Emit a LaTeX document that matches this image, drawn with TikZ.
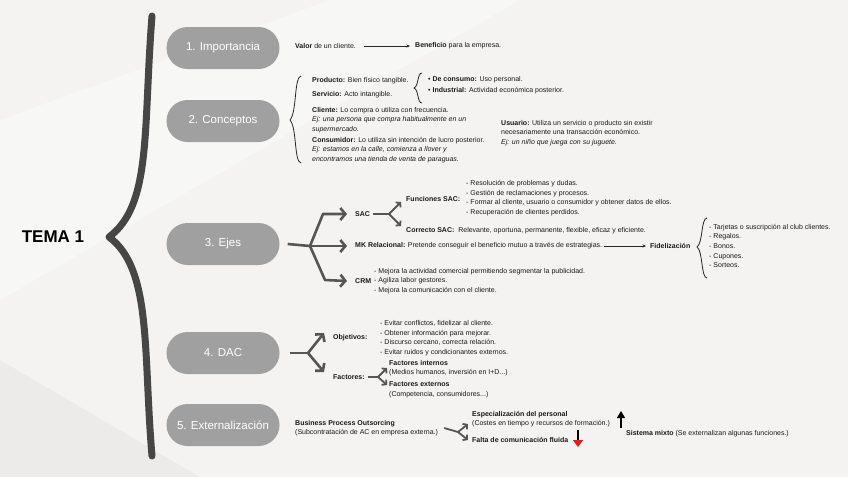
\documentclass[tikz,border=0pt]{standalone}
\usepackage{fontspec}
\setmainfont{Liberation Sans}
\usetikzlibrary{arrows.meta}

\definecolor{paper}{RGB}{244,243,241}
\definecolor{pillgrey}{RGB}{160,160,160}
\definecolor{bracegrey}{RGB}{70,70,70}
\definecolor{arrowgrey}{RGB}{85,85,85}
\definecolor{downred}{RGB}{225,30,30}

\tikzset{
  pill/.style={fill=pillgrey, rounded corners=21pt, minimum width=113pt,
    minimum height=42pt, text=white, font=\fontsize{11.5}{13}\selectfont, inner sep=0pt},
  txt/.style={font=\fontsize{7}{9.6}\selectfont, text=black!90, inner sep=0pt,
    anchor=west, align=left},
  fork/.style={draw=arrowgrey, line width=1.8pt, line cap=round,
    -{Straight Barb[length=3pt,width=7pt]}},
  bigfork/.style={draw=arrowgrey, line width=2.6pt, line join=round,
    -{Straight Barb[length=5pt,width=12pt]}},
  linkarrow/.style={draw=black!85, line width=0.6pt, -{Stealth[length=3.5pt,width=3pt]}},
  brc/.style={draw=black!85, line width=0.8pt}
}

\begin{document}
\begin{tikzpicture}[x=1pt,y=-1pt]
\fill[paper] (0,0) rectangle (848,477);
\useasboundingbox (0,0) rectangle (848,477);
% faint paper patches
\fill[white, opacity=0.35] (0,120) -- (330,0) -- (520,0) -- (0,300) -- cycle;
\fill[black, opacity=0.03] (0,360) -- (200,477) -- (0,477) -- cycle;

% title and main brace
\node[font=\fontsize{17}{20}\selectfont\bfseries, inner sep=0pt] (tema) at (53,237) {TEMA 1};
\draw[bracegrey, line width=7pt, line cap=round, line join=round]
  (152,16) .. controls (143,130) and (152,205) .. (109,237)
  .. controls (152,269) and (143,350) .. (152,456);

% pills
\node[pill] (imp)  at (223,48)  {1. Importancia};
\node[pill] (conc) at (223,121) {2. Conceptos};
\node[pill] (ejes) at (223,244) {3. Ejes};
\node[pill] (dac)  at (223,353) {4. DAC};
\node[pill] (ext)  at (223,425) {5. Externalizaci\'on};

% 1. Importancia
\node[txt] (valor) at (295,46) {\textbf{Valor} de un cliente.};
\node[txt] (benef) at (415,46) {\textbf{Beneficio} para la empresa.};
\draw[linkarrow] ([xshift=8pt]valor.east) -- ([xshift=-5pt]benef.west);

% 2. Conceptos
\draw[brc] (301,76) .. controls (294,77) and (297,112) .. (290,120)
  .. controls (297,128) and (294,162) .. (301,163);
\node[txt] (producto) at (312,81) {\textbf{Producto:} Bien f\'isico tangible.};
\node[txt] (servicio) at (312,95) {\textbf{Servicio:} Acto intangible.};
\draw[brc] (422,73) .. controls (417,73) and (419,86) .. (414,88)
  .. controls (419,90) and (417,103) .. (422,103);
\node[txt] (consumo) at (428,80) {\textbullet\ \textbf{De consumo:} Uso personal.};
\node[txt] (industrial) at (428,91) {\textbullet\ \textbf{Industrial:} Actividad econ\'omica posterior.};
\node[txt] (cliente) at (312,120) {\textbf{Cliente:} Lo compra o utiliza con frecuencia.\\
  \textit{Ej: una persona que compra habitualmente en un}\\ \textit{supermercado.}};
\node[txt] (consumidor) at (312,150) {\textbf{Consumidor:} Lo utiliza sin intenci\'on de lucro posterior.\\
  \textit{Ej: estamos en la calle, comienza a llover y}\\
  \textit{encontramos una tienda de venta de paraguas.}};
\node[txt] (usuario) at (501,133) {\textbf{Usuario:} Utiliza un servicio o producto sin existir\\
  necesariamente una transacci\'on econ\'omico.\\ \textit{Ej: un ni\~no que juega con su juguete.}};

% 3. Ejes
\coordinate (ejesJ) at (310,246);
\node[txt] (sac) at (355,214) {\textbf{SAC}};
\node[txt] (mk) at (355,246) {\textbf{MK Relacional:} Pretende conseguir el beneficio mutuo a trav\'es de estrategias.};
\node[txt] (crm) at (355,281) {\textbf{CRM}};
\draw[arrowgrey, line width=2.6pt] ([xshift=8pt]ejes.east) -- (ejesJ);
\draw[bigfork] (ejesJ) -- ++(13,-32) -- ([xshift=-8pt]sac.west);
\draw[bigfork] (ejesJ) -- ([xshift=-8pt]mk.west);
\draw[bigfork] (ejesJ) -- ++(15,34) -- ([xshift=-8pt]crm.west);

\coordinate (sacJ) at (389,214);
\draw[arrowgrey, line width=1.8pt] ([xshift=3pt]sac.east) -- (sacJ);
\draw[fork] (sacJ) -- ++(12,-12);
\draw[fork] (sacJ) -- ++(12,12);
\node[txt] (funciones) at (406,199) {\textbf{Funciones SAC:}};
\node[txt] (funlist) at (466,198) {- Resoluci\'on de problemas y dudas.\\
  - Gesti\'on de reclamaciones y procesos.\\
  - Formar al cliente, usuario o consumidor y obtener datos de ellos.\\
  - Recuperaci\'on de clientes perdidos.};
\node[txt] (correcto) at (406,231) {\textbf{Correcto SAC:}\ \ Relevante, oportuna, permanente, flexible, eficaz y eficiente.};

\node[txt] (fidel) at (650,246) {\textbf{Fidelizaci\'on}};
\draw[linkarrow] ([xshift=2pt]mk.east) -- ([xshift=-4pt]fidel.west);
\draw[brc] (707,218) .. controls (701,218) and (703,243) .. (697,247)
  .. controls (703,251) and (701,278) .. (707,278);
\node[txt] (fidlist) at (709,246) {- Tarjetas o suscripci\'on al club clientes.\\
  - Regalos.\\ - Bonos.\\ - Cupones.\\ - Sorteos.};

\node[txt] (crmlist) at (374,281) {- Mejora la actividad comercial permitiendo segmentar la publicidad.\\
  - Agiliza labor gestores.\\ - Mejora la comunicaci\'on con el cliente.};

% 4. DAC
\coordinate (dacJ) at (308,353);
\draw[arrowgrey, line width=2.6pt] ([xshift=10pt]dac.east) -- (dacJ);
\draw[bigfork] (dacJ) -- ++(16,-20);
\draw[bigfork] (dacJ) -- ++(16,19);
\node[txt] (objetivos) at (333,338) {\textbf{Objetivos:}};
\node[txt] (objlist) at (380,338) {- Evitar conflictos, fidelizar al cliente.\\
  - Obtener informaci\'on para mejorar.\\
  - Discurso cercano, correcta relaci\'on.\\
  - Evitar ruidos y condicionantes externos.};
\node[txt] (factores) at (333,377) {\textbf{Factores:}};
\coordinate (facJ) at (378,377);
\draw[arrowgrey, line width=1.8pt] ([xshift=3pt]factores.east) -- (facJ);
\draw[fork] (facJ) -- ++(9,-9);
\draw[fork] (facJ) -- ++(9,8);
\node[txt] (internos) at (389,368) {\textbf{Factores internos}\\ (Medios humanos, inversi\'on en I+D...)};
\node[txt] (externos) at (389,390) {\textbf{Factores externos}\\ (Competencia, consumidores...)};

% 5. Externalizacion
\node[txt] (bpo) at (295,428) {\textbf{Business Process Outsorcing}\\ (Subcontrataci\'on de AC en empresa externa.)};
\coordinate (bpoJ) at (458,432);
\draw[arrowgrey, line width=1.8pt] ([xshift=6pt]bpo.east) -- (bpoJ);
\draw[fork] (bpoJ) -- ++(10,-8);
\draw[fork] (bpoJ) -- ++(10,8);
\node[txt] (espec) at (472,419) {\textbf{Especializaci\'on del personal}\\ (Costes en tiempo y recursos de formaci\'on.)};
\node[txt] (falta) at (472,440) {\textbf{Falta de comunicaci\'on fluida}};
\coordinate (upA) at (621,428);
\coordinate (downA) at (578,430);
\draw[black, line width=1.2pt, -{Triangle[length=7pt,width=8pt]}] (upA) -- ++(0,-17);
\draw[black, line width=1.2pt, -{Triangle[length=7pt,width=10pt,color=downred]}] (downA) -- ++(0,17);
\node[txt] (mixto) at (626,434) {\textbf{Sistema mixto} (Se externalizan algunas funciones.)};
\end{tikzpicture}
\end{document}
